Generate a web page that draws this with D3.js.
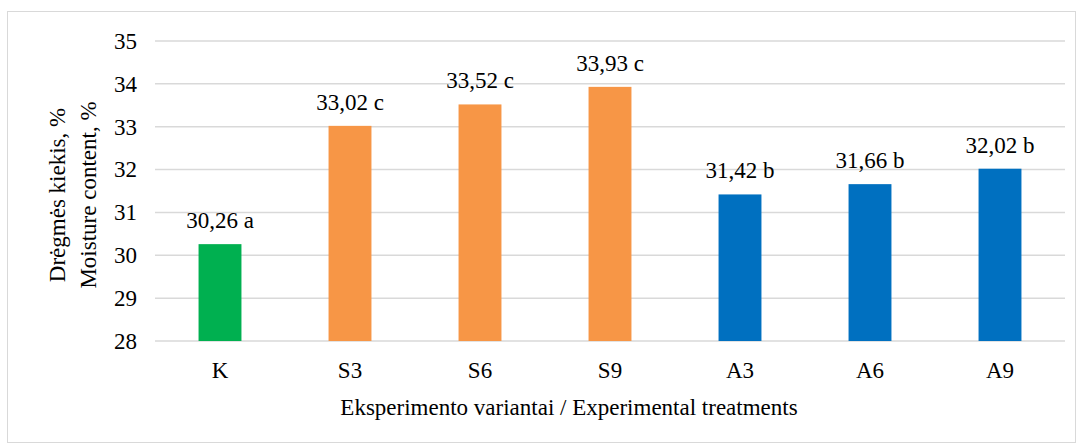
<!DOCTYPE html>
<html><head><meta charset="utf-8">
<script src="https://cdn.jsdelivr.net/npm/d3@7"></script>
<style>body{margin:0;background:#fff}svg{display:block}</style>
</head><body>
<script>
const categories = ["K","S3","S6","S9","A3","A6","A9"];
const values = [30.26,33.02,33.52,33.93,31.42,31.66,32.02];
const letters = ["a","c","c","c","b","b","b"];
const colors = ["#00B050","#F79646","#F79646","#F79646","#0070C0","#0070C0","#0070C0"];
const yTicks = [28,29,30,31,32,33,34,35];
const yTitle = ["Drėgmės kiekis, %","Moisture content, %"];
const xTitle = "Eksperimento variantai / Experimental treatments";

const FF='"Liberation Serif"';
const FS="23px";
const W=1083,H=448;
const svg=d3.select("body").append("svg").attr("width",W).attr("height",H);
svg.append("rect").attr("x",7.5).attr("y",11.5).attr("width",1068).attr("height",431).attr("fill","#fff").attr("stroke","#d9d9d9");
const L=155,R=1065,T=41,B=341;
const x=d3.scaleBand().domain(categories).range([L,R]).paddingInner(0.67).paddingOuter(0.335);
const y=d3.scaleLinear().domain([28,35]).range([B,T]);
const g=svg.append("g");
g.selectAll("line.grid").data(yTicks).join("line").attr("x1",L).attr("x2",R)
 .attr("y1",d=>y(d)).attr("y2",d=>y(d)).attr("stroke","#d9d9d9").attr("stroke-width",1.5);
const ya=d3.axisLeft(y).tickValues(yTicks).tickFormat(d3.format("d")).tickSize(0).tickPadding(18);
const yg=svg.append("g").attr("transform",`translate(${L},0)`).call(ya).attr("font-family",null).attr("font-size",null);
yg.select(".domain").remove();
yg.selectAll("text").style("font-size",FS).style("font-family",FF).attr("fill","#000");
g.selectAll("rect.bar").data(values).join("rect").attr("x",(d,i)=>x(categories[i])).attr("width",x.bandwidth())
 .attr("y",d=>y(d)).attr("height",d=>y(28)-y(d)).attr("fill",(d,i)=>colors[i]);
g.selectAll("text.lab").data(values).join("text").attr("x",(d,i)=>x(categories[i])+x.bandwidth()/2)
 .attr("y",d=>y(d)-16).attr("text-anchor","middle").style("font-size",FS).style("font-family",FF)
 .text((d,i)=>d.toFixed(2).replace(".",",")+" "+letters[i]);
const xa=d3.axisBottom(x).tickSize(0).tickPadding(21);
const xg=svg.append("g").attr("transform",`translate(0,${B})`).call(xa).attr("font-family",null).attr("font-size",null);
xg.select(".domain").remove();
xg.selectAll("text").style("font-size",FS).style("font-family",FF).attr("fill","#000");
svg.append("text").attr("x",569).attr("y",415).attr("text-anchor","middle").style("font-size",FS).style("font-family",FF).text(xTitle);
yTitle.forEach((t,i)=>{
 svg.append("text").attr("transform",`translate(${65+i*31},${195}) rotate(-90)`).attr("text-anchor","middle").style("font-size",FS).style("font-family",FF).text(t);
});
</script>
</body></html>
